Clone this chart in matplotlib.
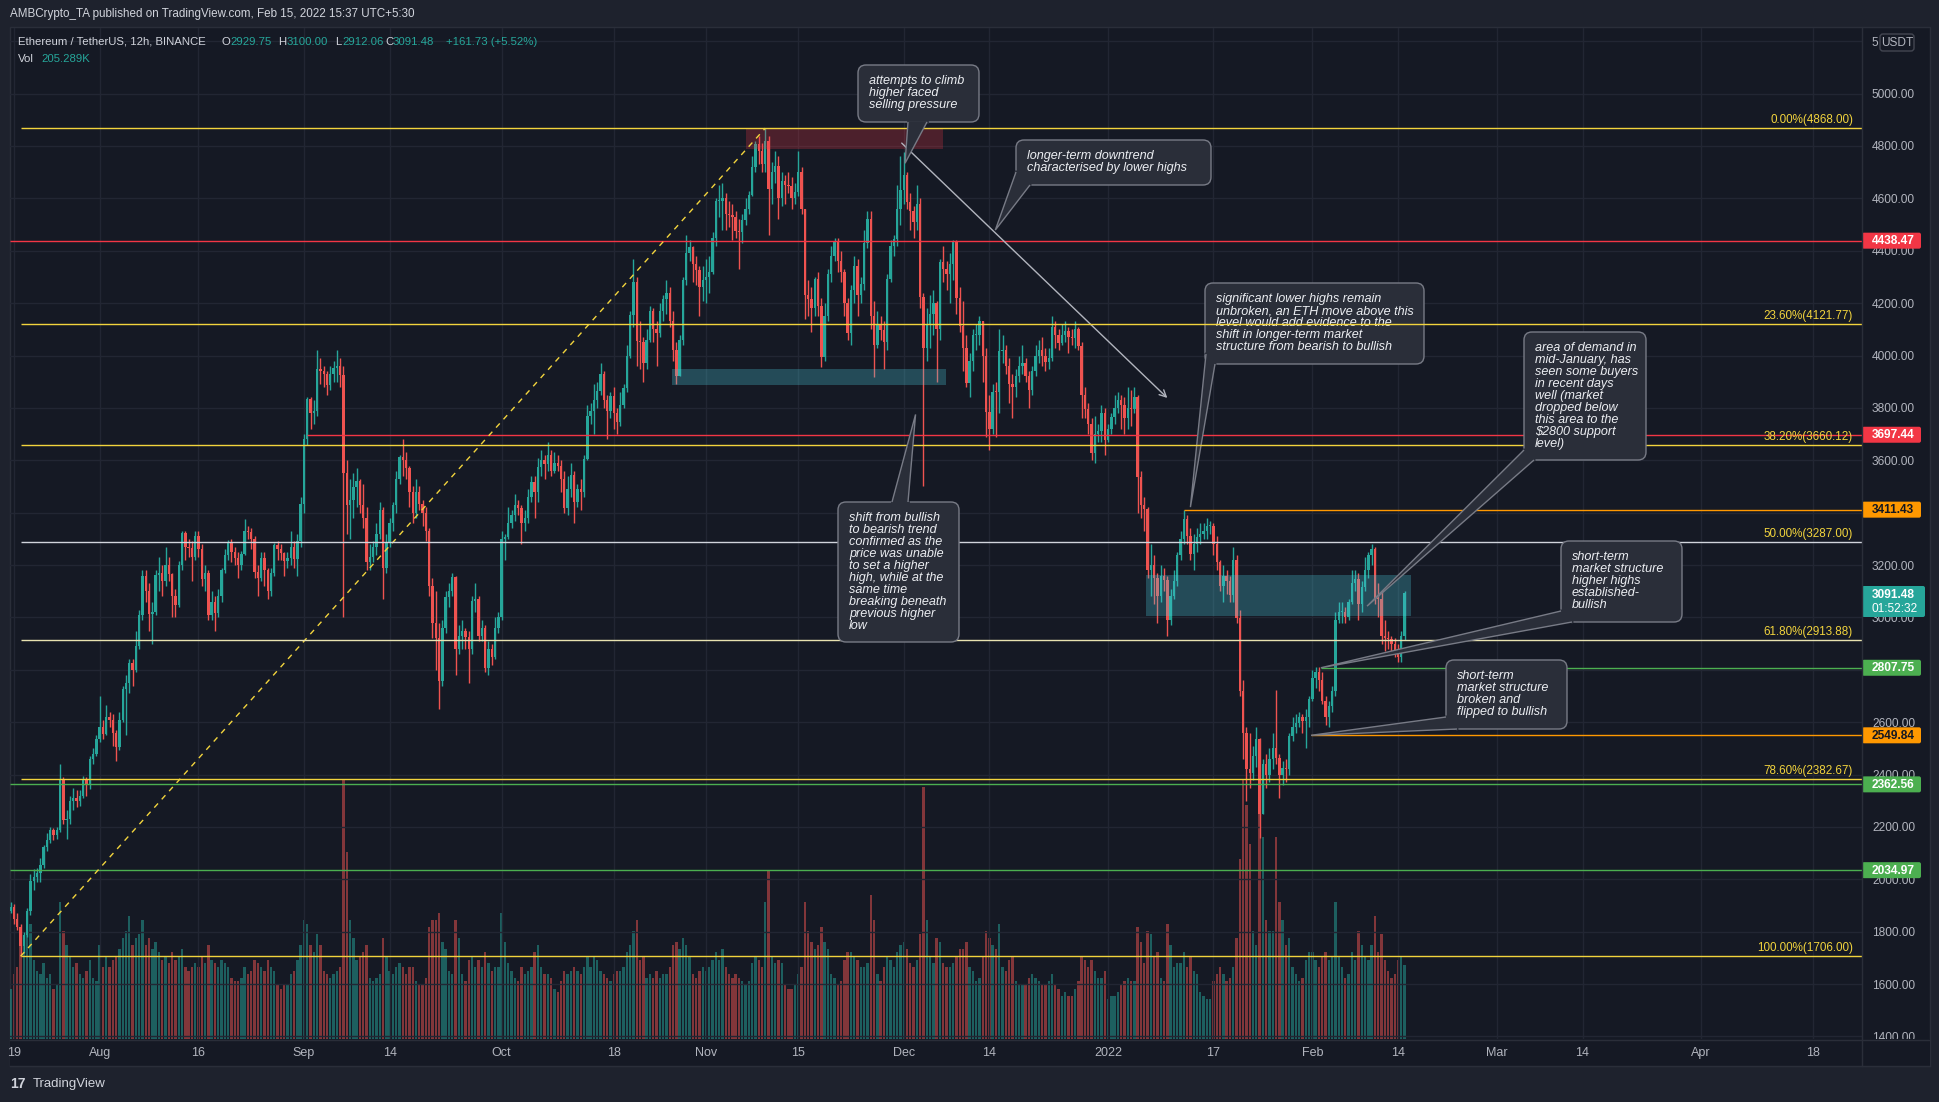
import datetime as dt
import numpy as np
import matplotlib
matplotlib.use("Agg")
import matplotlib.pyplot as plt
from matplotlib.patches import Rectangle, FancyBboxPatch, Polygon
from matplotlib.transforms import Affine2D

plt.rcParams['font.family'] = ['Liberation Sans', 'DejaVu Sans']

W, H = 1940, 1102
BG = '#151924'
FRAME = '#1e222d'
GRID = '#222633'
UP = '#26a69a'
DOWN = '#ef5350'
YELLOW = '#f2d43d'
TXT = '#b2b5be'

# ---- data: ETH/USDT 12h candles, first candle opens 2021-07-18 00:00 ----
first_open = 1897.0
closes = [
    1880, 1895, 1850, 1819, 1745, 1787, 1880, 1994, 2010, 2025, 2055, 2124, 2150, 2188,
    2170, 2190, 2380, 2225, 2230, 2300, 2310, 2298, 2320, 2380, 2360, 2460, 2480, 2535,
    2580, 2555, 2620, 2608, 2560, 2506, 2610, 2725, 2750, 2825, 2800, 2890, 3010, 3157,
    3100, 3012, 3020, 3163, 3170, 3140, 3200, 3164, 3080, 3046, 3200, 3322, 3270, 3266,
    3230, 3310, 3260, 3148, 3170, 3011, 3060, 3018, 3080, 3182, 3240, 3286, 3250, 3226,
    3200, 3242, 3330, 3325, 3300, 3173, 3150, 3226, 3180, 3101, 3170, 3275, 3260, 3245,
    3215, 3227, 3270, 3224, 3290, 3433, 3680, 3834, 3780, 3788, 3950, 3939, 3930, 3886,
    3930, 3952, 3960, 3927, 3550, 3431, 3450, 3497, 3520, 3428, 3380, 3211, 3230, 3268,
    3320, 3410, 3190, 3285, 3360, 3429, 3530, 3612, 3600, 3570, 3480, 3397, 3480, 3432,
    3400, 3330, 3120, 2977, 2920, 2757, 2960, 3079, 3100, 3155, 2880, 2930, 2950, 2925,
    2880, 3063, 3070, 2930, 2960, 2807, 2880, 2850, 2960, 3000, 3300, 3307, 3360, 3390,
    3430, 3418, 3360, 3380, 3460, 3518, 3480, 3576, 3600, 3587, 3620, 3560, 3590, 3580,
    3530, 3416, 3490, 3545, 3440, 3490, 3480, 3606, 3770, 3787, 3830, 3866, 3930, 3829,
    3790, 3845, 3780, 3747, 3810, 3877, 4000, 4156, 4280, 4057, 4050, 3972, 4060, 4170,
    4100, 4085, 4170, 4217, 4240, 4131, 4020, 3922, 4060, 4287, 4390, 4414, 4350, 4325,
    4260, 4288, 4300, 4319, 4450, 4589, 4590, 4603, 4540, 4537, 4530, 4476, 4470, 4518,
    4560, 4612, 4720, 4808, 4780, 4730, 4820, 4636, 4700, 4725, 4600, 4667, 4650, 4648,
    4600, 4625, 4700, 4558, 4230, 4217, 4180, 4291, 4190, 3995, 4150, 4310, 4380, 4437,
    4360, 4317, 4200, 4087, 4250, 4340, 4230, 4272, 4430, 4522, 4150, 4041, 4120, 4097,
    4050, 4294, 4420, 4446, 4560, 4631, 4690, 4586, 4550, 4511, 4580, 4224, 4030, 4119,
    4160, 4199, 4100, 4356, 4330, 4310, 4350, 4432, 4220, 4111, 4030, 3895, 3980, 4078,
    4080, 4133, 4000, 3785, 3720, 3862, 3860, 4016, 4020, 3960, 3890, 3881, 3920, 3960,
    3970, 3922, 3870, 3940, 4000, 4020, 4000, 3976, 3990, 4108, 4080, 4046, 4080, 4094,
    4070, 4067, 4100, 4036, 3850, 3794, 3740, 3628, 3700, 3712, 3780, 3676, 3720, 3765,
    3800, 3829, 3810, 3761, 3800, 3794, 3840, 3537, 3430, 3413, 3180, 3200, 3150, 3083,
    3160, 3144, 2990, 3081, 3140, 3237, 3300, 3374, 3310, 3241, 3280, 3307, 3320, 3330,
    3350, 3350, 3280, 3211, 3120, 3160, 3140, 3085, 3220, 2996, 2720, 2560, 2420, 2406,
    2470, 2536, 2250, 2441, 2400, 2459, 2500, 2464, 2400, 2425, 2420, 2546, 2580, 2598,
    2620, 2605, 2620, 2688, 2770, 2792, 2760, 2681, 2620, 2660, 2720, 2990, 3020, 3020,
    3000, 3058, 3130, 3147, 3050, 3117, 3180, 3237, 3260, 3072, 3070, 2928, 2920, 2917,
    2900, 2873, 2850, 2929.75, 3091.48,
]
highs = [
    1910, 1915, 1905, 1870, 1830, 1800, 1890, 2020, 2040, 2045, 2080, 2130, 2175, 2200,
    2195, 2200, 2440, 2390, 2265, 2320, 2350, 2340, 2340, 2395, 2390, 2470, 2500, 2550,
    2700, 2610, 2665, 2640, 2630, 2570, 2640, 2740, 2780, 2840, 2840, 2950, 3030, 3180,
    3180, 3130, 3060, 3180, 3230, 3200, 3270, 3230, 3170, 3110, 3215, 3330, 3330, 3300,
    3290, 3330, 3330, 3280, 3200, 3180, 3100, 3080, 3110, 3190, 3260, 3295, 3300, 3270,
    3250, 3255, 3375, 3350, 3340, 3310, 3200, 3250, 3250, 3190, 3190, 3285, 3290, 3280,
    3250, 3250, 3330, 3290, 3320, 3460, 3700, 3840, 3840, 3830, 4020, 3990, 3960, 3940,
    3960, 3980, 4020, 3990, 3960, 3600, 3530, 3550, 3570, 3530, 3510, 3420, 3280, 3290,
    3360, 3440, 3420, 3320, 3380, 3440, 3560, 3620, 3680, 3630, 3580, 3500, 3530, 3500,
    3450, 3420, 3340, 3150, 3100, 2980, 2990, 3100, 3130, 3170, 3160, 2970, 2990, 2960,
    2950, 3080, 3130, 3080, 2990, 2970, 2910, 2900, 3000, 3020, 3330, 3320, 3420, 3410,
    3470, 3450, 3430, 3410, 3490, 3540, 3540, 3610, 3640, 3620, 3670, 3640, 3630, 3620,
    3600, 3560, 3540, 3590, 3560, 3510, 3530, 3620, 3810, 3820, 3890, 3900, 3970, 3940,
    3850, 3860, 3880, 3800, 3860, 3890, 4040, 4170, 4370, 4300, 4130, 4070, 4100, 4190,
    4180, 4130, 4200, 4230, 4290, 4260, 4170, 4050, 4080, 4300, 4460, 4440, 4420, 4380,
    4340, 4340, 4370, 4380, 4470, 4600, 4650, 4660, 4620, 4590, 4580, 4550, 4520, 4540,
    4600, 4630, 4760, 4820, 4840, 4810, 4868, 4840, 4740, 4780, 4760, 4700, 4690, 4700,
    4680, 4660, 4780, 4720, 4560, 4290, 4260, 4300, 4320, 4220, 4200, 4330, 4420, 4450,
    4450, 4400, 4330, 4220, 4270, 4380, 4370, 4300, 4480, 4550, 4550, 4210, 4170, 4150,
    4130, 4310, 4440, 4460, 4650, 4760, 4778, 4700, 4620, 4570, 4650, 4600, 4240, 4180,
    4230, 4250, 4210, 4370, 4420, 4360, 4390, 4440, 4440, 4260, 4210, 4080, 4010, 4100,
    4120, 4150, 4130, 4030, 3850, 3890, 3900, 4100, 4080, 4040, 3990, 3930, 3950, 4000,
    4040, 3990, 3940, 3960, 4040, 4060, 4070, 4030, 4030, 4150, 4130, 4100, 4120, 4130,
    4110, 4100, 4130, 4110, 4050, 3880, 3820, 3760, 3770, 3740, 3810, 3800, 3740, 3780,
    3850, 3860, 3850, 3840, 3880, 3870, 3880, 3850, 3560, 3460, 3420, 3280, 3240, 3170,
    3200, 3190, 3160, 3110, 3180, 3250, 3330, 3411.43, 3390, 3340, 3320, 3340, 3360, 3360,
    3380, 3370, 3360, 3310, 3220, 3200, 3180, 3160, 3270, 3240, 3030, 2760, 2580, 2560,
    2510, 2580, 2540, 2460, 2480, 2500, 2560, 2723, 2480, 2450, 2460, 2560, 2620, 2630,
    2640, 2630, 2650, 2700, 2800, 2810, 2810, 2790, 2700, 2680, 2740, 3020, 3060, 3060,
    3040, 3070, 3180, 3180, 3170, 3140, 3230, 3250, 3280, 3270, 3130, 3100, 2990, 2950,
    2930, 2920, 2900, 2950, 3100,
]
lows = [
    1855, 1870, 1830, 1805, 1706, 1718, 1780, 1865, 1960, 1990, 1990, 2045, 2110, 2140,
    2150, 2155, 2180, 2210, 2155, 2210, 2265, 2275, 2280, 2310, 2320, 2345, 2440, 2470,
    2525, 2535, 2550, 2580, 2510, 2450, 2495, 2600, 2550, 2710, 2740, 2790, 2880, 2990,
    3060, 2950, 2900, 3010, 3100, 3080, 3120, 3140, 3000, 3000, 3040, 3180, 3220, 3230,
    3140, 3220, 3230, 3120, 3100, 2990, 2990, 2950, 3000, 3060, 3170, 3220, 3210, 3200,
    3150, 3180, 3240, 3300, 3260, 3150, 3080, 3140, 3120, 3070, 3080, 3160, 3220, 3220,
    3160, 3190, 3200, 3190, 3160, 3270, 3400, 3660, 3720, 3740, 3770, 3890, 3880, 3850,
    3870, 3900, 3900, 3880, 3000, 3320, 3300, 3380, 3420, 3400, 3340, 3180, 3180, 3210,
    3240, 3300, 3070, 3170, 3270, 3330, 3400, 3510, 3540, 3530, 3420, 3360, 3380, 3410,
    3350, 3290, 3080, 2920, 2800, 2650, 2740, 2940, 3040, 3080, 2780, 2860, 2880, 2880,
    2750, 2860, 3020, 2910, 2910, 2790, 2780, 2820, 2840, 2940, 2990, 3220, 3300, 3340,
    3370, 3390, 3280, 3330, 3360, 3440, 3380, 3440, 3540, 3530, 3560, 3540, 3550, 3560,
    3480, 3400, 3390, 3460, 3360, 3420, 3410, 3460, 3600, 3740, 3700, 3800, 3850, 3800,
    3680, 3760, 3720, 3700, 3730, 3800, 3860, 3990, 4110, 3960, 3950, 3900, 3950, 4050,
    4050, 3960, 4070, 4130, 4160, 4110, 3980, 3890, 3920, 4040, 4270, 4360, 4280, 4270,
    4150, 4210, 4200, 4240, 4310, 4420, 4530, 4480, 4480, 4490, 4440, 4450, 4330, 4430,
    4500, 4540, 4610, 4700, 4730, 4700, 4700, 4460, 4580, 4660, 4520, 4570, 4580, 4620,
    4560, 4580, 4610, 4540, 4140, 4150, 4090, 4150, 4150, 3956, 3980, 4130, 4280, 4360,
    4320, 4280, 4150, 4060, 4040, 4200, 4150, 4200, 4250, 4410, 4100, 3919, 4030, 4060,
    3950, 4020, 4280, 4380, 4420, 4500, 4580, 4560, 4480, 4450, 4480, 4180, 3500, 3980,
    4030, 4080, 3900, 4060, 4280, 4250, 4200, 4290, 4160, 4090, 3940, 3880, 3840, 3940,
    4020, 4040, 3900, 3690, 3640, 3700, 3690, 3780, 3970, 3930, 3820, 3760, 3840, 3900,
    3930, 3900, 3800, 3850, 3920, 3970, 3960, 3940, 3950, 3980, 4030, 4020, 4040, 4050,
    4010, 4040, 4030, 4020, 3760, 3760, 3700, 3600, 3590, 3670, 3670, 3620, 3670, 3700,
    3740, 3780, 3720, 3700, 3720, 3730, 3780, 3400, 3380, 3330, 3150, 3080, 3050, 2980,
    3060, 3100, 2928, 2970, 3070, 3120, 3220, 3280, 3280, 3220, 3180, 3250, 3280, 3300,
    3300, 3320, 3240, 3180, 3100, 3060, 3090, 3060, 3060, 2980, 2700, 2460, 2300, 2350,
    2380, 2430, 2159, 2260, 2350, 2370, 2420, 2440, 2310, 2360, 2370, 2400, 2530, 2560,
    2580, 2560, 2500, 2580, 2680, 2730, 2720, 2670, 2590, 2580, 2640, 2700, 2980, 2980,
    2980, 2990, 3050, 3100, 2990, 3020, 3100, 3150, 3200, 3050, 3000, 2900, 2870, 2880,
    2870, 2850, 2830, 2830, 2912.06,
]
volumes = [  # thousands of ETH
    150, 140, 180, 200, 260, 280, 290, 320, 220, 190, 180, 210, 170, 180,
    140, 150, 380, 300, 260, 230, 200, 210, 180, 170, 190, 220, 170, 160,
    260, 200, 230, 200, 220, 230, 250, 280, 300, 340, 260, 280, 290, 330,
    260, 280, 250, 270, 240, 220, 230, 210, 240, 220, 230, 250, 200, 190,
    200, 210, 200, 230, 210, 260, 220, 210, 200, 220, 210, 200, 170, 160,
    160, 170, 200, 180, 190, 220, 210, 200, 190, 220, 200, 190, 150, 140,
    150, 150, 180, 190, 220, 260, 330, 320, 260, 240, 290, 260, 190, 180,
    170, 180, 190, 200, 720, 520, 330, 280, 220, 230, 240, 260, 170, 160,
    170, 180, 280, 230, 190, 180, 200, 210, 200, 180, 200, 200, 160, 150,
    150, 170, 310, 330, 330, 350, 270, 250, 190, 180, 330, 280, 180, 160,
    220, 230, 200, 220, 200, 240, 210, 190, 200, 200, 350, 270, 210, 190,
    170, 160, 200, 180, 190, 200, 240, 260, 200, 180, 180, 170, 140, 130,
    160, 190, 180, 190, 200, 190, 180, 200, 230, 200, 230, 220, 190, 180,
    170, 160, 180, 190, 190, 200, 240, 260, 300, 330, 220, 230, 170, 180,
    170, 190, 170, 180, 180, 200, 260, 270, 250, 280, 260, 230, 180, 170,
    190, 200, 190, 200, 220, 240, 220, 250, 200, 180, 170, 180, 170, 160,
    150, 160, 210, 230, 220, 200, 380, 470, 230, 210, 220, 210, 150, 140,
    140, 150, 180, 200, 380, 300, 270, 250, 260, 310, 270, 250, 180, 170,
    150, 160, 220, 240, 240, 230, 220, 200, 200, 210, 400, 330, 180, 160,
    200, 230, 220, 200, 240, 260, 270, 250, 210, 200, 220, 290, 700, 330,
    230, 210, 280, 270, 210, 200, 200, 210, 230, 250, 250, 270, 200, 190,
    160, 170, 230, 300, 280, 260, 250, 320, 200, 190, 220, 230, 160, 150,
    150, 150, 170, 180, 170, 160, 150, 150, 160, 180, 150, 140, 120, 130,
    120, 120, 140, 160, 230, 220, 200, 220, 190, 170, 170, 190, 110, 120,
    120, 130, 150, 160, 170, 160, 160, 310, 270, 210, 300, 290, 230, 240,
    170, 160, 320, 260, 200, 210, 210, 240, 200, 230, 190, 180, 130, 120,
    110, 110, 160, 180, 200, 180, 160, 170, 200, 280, 500, 720, 650, 540,
    300, 260, 680, 560, 330, 300, 300, 560, 380, 330, 260, 280, 200, 180,
    160, 170, 220, 240, 240, 220, 200, 230, 240, 220, 230, 380, 230, 200,
    170, 180, 240, 220, 300, 260, 230, 220, 260, 340, 240, 290, 220, 190,
    170, 180, 220, 230, 205.289,
]
assert len(closes) == len(highs) == len(lows) == len(volumes) == 425

# fib retracement levels (Jul 20 low -> Nov 10 high)
fib_labels = ['0.00%', '23.60%', '38.20%', '50.00%', '61.80%', '78.60%', '100.00%']
fib_values = [4868.00, 4121.77, 3660.12, 3287.00, 2913.88, 2382.67, 1706.00]
fib_colors = [YELLOW, YELLOW, YELLOW, '#d1d4dc', '#e8e2b0', YELLOW, YELLOW]

# horizontal support / resistance levels: value, colour, start day
level_values = [4438.47, 3697.44, 3411.43, 2807.75, 2549.84, 2362.56, 2034.97]
level_colors = ['#f23645', '#f23645', '#ff9800', '#4caf50', '#ff9800', '#4caf50', '#4caf50']
level_text = ['white', 'white', '#131722', 'white', '#131722', 'white', 'white']
level_start = [None, 44.4, 177.5, 198.3, 196.8, None, None]

tick_dates = ['2021-07-19', '2021-08-01', '2021-08-16', '2021-09-01', '2021-09-14',
              '2021-10-01', '2021-10-18', '2021-11-01', '2021-11-15', '2021-12-01',
              '2021-12-14', '2022-01-01', '2022-01-17', '2022-02-01', '2022-02-14',
              '2022-03-01', '2022-03-14', '2022-04-01', '2022-04-18']
tick_labels = ['19', 'Aug', '16', 'Sep', '14', 'Oct', '18', 'Nov', '15', 'Dec', '14',
               '2022', '17', 'Feb', '14', 'Mar', '14', 'Apr', '18']
price_ticks = list(range(1400, 5001, 200))
hidden_ticks = [3400]   # fully covered by the 3411.43 marker

# ---- derived ----
origin = dt.date(2021, 7, 19)
c = np.array(closes, float)
o = np.r_[first_open, c[:-1]]
hi = np.maximum(np.array(highs, float), np.maximum(o, c))
lo = np.minimum(np.array(lows, float), np.minimum(o, c))
v = np.array(volumes, float)
t = -1 + 0.5 * np.arange(len(c))
col = np.where(c >= o, UP, DOWN)
tick_days = [(dt.date.fromisoformat(s) - origin).days for s in tick_dates]

XMIN, XMAX = -0.6, 280.4
YMIN, YMAX = 1390.3, 5250.5

fig = plt.figure(figsize=(W / 100, H / 100), dpi=100, facecolor=FRAME)
pix = Affine2D().scale(1, -1).translate(0, H)   # pixel (top-left origin) -> display


def box_in_fig(l, t_, r, b):
    return [l / W, 1 - b / H, (r - l) / W, (b - t_) / H]


fig.patches.append(Rectangle((10 / W, 1 - 1066 / H), 1920 / W, 1039 / H,
                             transform=fig.transFigure, facecolor=BG,
                             edgecolor='#2a2e39', lw=1, zorder=-5))

axv = fig.add_axes(box_in_fig(10, 28, 1862, 1039), zorder=1)
axv.set_facecolor(BG)
axv.bar(t, v, width=0.36, color=col, alpha=0.5, linewidth=0)
axv.set_xlim(XMIN, XMAX)
axv.set_ylim(0, 205.289 * 1011 / 74)
axv.axis('off')

ax = fig.add_axes(box_in_fig(10, 28, 1862, 1039), zorder=2)
ax.patch.set_visible(False)
ax.set_xlim(XMIN, XMAX)
ax.set_ylim(YMIN, YMAX)
for s in ['top', 'left', 'bottom']:
    ax.spines[s].set_visible(False)
ax.spines['right'].set_color('#2a2e39')
ax.yaxis.tick_right()
ax.set_yticks(price_ticks)
ax.set_yticklabels(['' if p in hidden_ticks else f'{p:.2f}' for p in price_ticks])
ax.tick_params(axis='y', length=0, pad=7.2, labelcolor=TXT, labelsize=8.6)
ax.set_xticks([])

# grid
for p in price_ticks + [5200]:
    ax.axhline(p, color=GRID, lw=1, zorder=0.5)
for d in tick_days:
    ax.axvline(d, color=GRID, lw=1, zorder=0.5)

# candles
ax.vlines(t, lo, hi, colors=col, lw=1, zorder=2)
ax.bar(t, np.maximum(np.abs(c - o), 4), bottom=np.minimum(o, c), width=0.36,
       color=col, linewidth=0, zorder=2.1)

# zones
ax.add_patch(Rectangle((111, 4788), 30, 4869 - 4788, facecolor='#f23645', alpha=0.25,
                       lw=0, zorder=3))
ax.add_patch(Rectangle((99.8, 3887), 41.6, 3948 - 3887, facecolor='#4dd0e1', alpha=0.28,
                       lw=0, zorder=3))
ax.add_patch(Rectangle((171.8, 3005), 40.1, 3162 - 3005, facecolor='#4dd0e1', alpha=0.28,
                       lw=0, zorder=3))

# levels
for val, colr, st in zip(level_values, level_colors, level_start):
    ax.hlines(val, XMIN if st is None else st, XMAX, color=colr, lw=1, zorder=4)

# fib
ax.plot([1, 114], [1706, 4868], color=YELLOW, lw=1, ls=(0, (4, 4)), zorder=4)
for val, colr in zip(fib_values, fib_colors):
    ax.hlines(val, 1, XMAX, color=colr, lw=1, zorder=6)

# downtrend arrow
ax.annotate('', xy=(175, 3838), xytext=(134.7, 4811),
            arrowprops=dict(arrowstyle='->', color='#b2b5be', lw=1, shrinkA=0,
                            shrinkB=0, mutation_scale=12), zorder=5)


def to_pix(d, p):
    X, Y = ax.transData.transform((d, p))
    return X, H - Y


for lab, val in zip(fib_labels, fib_values):
    _, yy = to_pix(0, val)
    ax.text(1853, yy - 8, f'{lab}({val:.2f})', transform=pix, ha='right', va='center',
            color=YELLOW, fontsize=8.4, zorder=8, clip_on=False)


def callout(box, base, tip, lines, z):
    x0, y0, x1, y1 = box
    ax.add_patch(FancyBboxPatch((x0, y0), x1 - x0, y1 - y0,
                                boxstyle='round,pad=0,rounding_size=8', transform=pix,
                                fc='#2a2e39', ec='#787b86', lw=1, zorder=z, clip_on=False))
    tx, ty = to_pix(*tip)
    ax.plot([base[0][0], base[1][0]], [base[0][1], base[1][1]], transform=pix,
            color='#2a2e39', lw=2, zorder=z + 0.01, clip_on=False)
    ax.add_patch(Polygon([base[0], (tx, ty), base[1]], closed=False, transform=pix,
                         fc='#2a2e39', ec='#787b86', lw=1, zorder=z + 0.02, clip_on=False))
    for i, line in enumerate(lines):
        ax.text(x0 + 11, y0 + 16 + i * 12, line, transform=pix, ha='left', va='center',
                color='#eceef2', fontsize=9.1, style='italic', zorder=z + 0.03,
                clip_on=False)


callout((858, 65, 979, 122), [(908, 122), (927, 122)], (135.2, 4734),
        ['attempts to climb', 'higher faced', 'selling pressure'], 7)
callout((1016, 140, 1211, 185), [(1016, 172), (1030, 185)], (148.9, 4479),
        ['longer-term downtrend', 'characterised by lower highs'], 7)
callout((838, 502, 959, 642), [(892, 502), (908, 502)], (136.8, 3775),
        ['shift from bullish', 'to bearish trend', 'confirmed as the', 'price was unable',
         'to set a higher', 'high, while at the', 'same time', 'breaking beneath',
         'previous higher', 'low'], 7)
callout((1205, 283, 1424, 364), [(1206, 354), (1215, 364)], (178.5, 3421),
        ['significant lower highs remain', 'unbroken, an ETH move above this',
         'level would add evidence to the', 'shift in longer-term market',
         'structure from bearish to bullish'], 5)
callout((1524, 332, 1646, 460), [(1524, 450), (1534, 460)], (205.3, 3043),
        ['area of demand in', 'mid-January, has', 'seen some buyers', 'in recent days',
         'well (market', 'dropped below', 'this area to the', '$2800 support', 'level)'], 7)
callout((1561, 541, 1682, 622), [(1561, 611), (1572, 622)], (198.3, 2807.75),
        ['short-term', 'market structure', 'higher highs', 'established-', 'bullish'], 7)
callout((1446, 660, 1567, 729), [(1446, 717), (1457, 729)], (196.8, 2549.84),
        ['short-term', 'market structure', 'broken and', 'flipped to bullish'], 7)

# ---- overlay: axis bands, labels, header ----
ov = fig.add_axes([0, 0, 1, 1], zorder=10)
ov.set_xlim(0, W)
ov.set_ylim(H, 0)
ov.axis('off')
ov.patch.set_visible(False)

ov.add_patch(Rectangle((10, 1039), 1920, 27, facecolor=BG, lw=0))
ov.plot([10, 1930], [1039.5, 1039.5], color='#2a2e39', lw=1)
ov.plot([1862, 1862], [27, 1066], color='#2a2e39', lw=1)
ov.plot([10, 1930], [1066, 1066], color='#2a2e39', lw=1)
for d, lab in zip(tick_days, tick_labels):
    xx, _ = to_pix(d, 3000)
    ov.text(xx, 1053, lab, ha='center', va='center', color=TXT, fontsize=9)

for val, colr, tcol in zip(level_values, level_colors, level_text):
    _, yy = to_pix(0, val)
    ov.add_patch(FancyBboxPatch((1862, yy - 8), 59, 16, boxstyle='round,pad=0,rounding_size=2',
                                facecolor=colr, lw=0))
    ov.text(1872, yy + 0.5, f'{val:.2f}', ha='left', va='center', color=tcol,
            fontsize=8.6, fontweight='bold')

ov.add_patch(FancyBboxPatch((1862, 586), 63, 31, boxstyle='round,pad=0,rounding_size=2',
                            facecolor=UP, lw=0))
ov.text(1872, 594.5, '3091.48', ha='left', va='center', color='white', fontsize=8.6,
        fontweight='bold')
ov.text(1872, 608.5, '01:52:32', ha='left', va='center', color='white', fontsize=8.6)

# top of price scale: the 5200 label peeks out from behind the currency box
ov.text(1872, 42.5, '5', ha='left', va='center', color=TXT, fontsize=8.6)
ov.add_patch(FancyBboxPatch((1880, 34), 34, 17, boxstyle='round,pad=0,rounding_size=3',
                            facecolor=BG, edgecolor='#434651', lw=1))
ov.text(1897, 42.5, 'USDT', ha='center', va='center', color=TXT, fontsize=8.6)

ov.text(10, 14, 'AMBCrypto_TA published on TradingView.com, Feb 15, 2022 15:37 UTC+5:30',
        ha='left', va='center', color='#d1d4dc', fontsize=8.4)
legend_parts = [(18, 'Ethereum / TetherUS, 12h, BINANCE', '#d1d4dc'),
                (222, 'O', '#d1d4dc'), (230, '2929.75', UP),
                (278, 'H', '#d1d4dc'), (287, '3100.00', UP),
                (335, 'L', '#d1d4dc'), (342, '2912.06', UP),
                (385, 'C', '#d1d4dc'), (393, '3091.48', UP),
                (446, '+161.73 (+5.52%)', UP)]
for xx, s, colr in legend_parts:
    ov.text(xx, 42, s, ha='left', va='center', color=colr, fontsize=8.2)
ov.text(18, 59, 'Vol', ha='left', va='center', color='#d1d4dc', fontsize=8.2)
ov.text(41, 59, '205.289K', ha='left', va='center', color=UP, fontsize=8.2)

ov.text(10, 1084, '17', ha='left', va='center', color='#d1d4dc', fontsize=10,
        fontweight='bold')
ov.text(33, 1084, 'TradingView', ha='left', va='center', color='#d1d4dc', fontsize=9.5)

fig.savefig('out.png', dpi=100, facecolor=FRAME)
